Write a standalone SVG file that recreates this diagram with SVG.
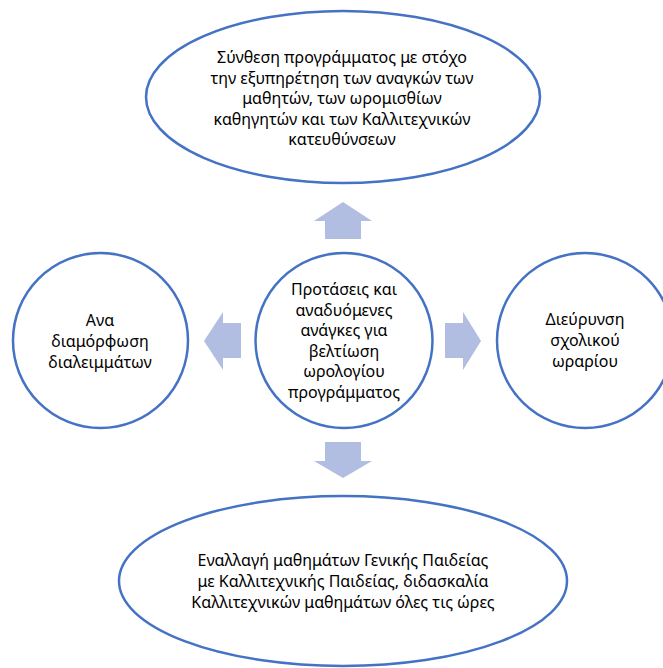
<svg xmlns="http://www.w3.org/2000/svg" width="663" height="668" viewBox="0 0 663 668">
  <style>
    .node { fill: #FFFFFF; stroke: #4472C4; stroke-width: 2.5; }
    .arrow { fill: #B1BEE1; stroke: none; }
    .label { font-family: "Noto Sans", "DejaVu Sans", sans-serif; font-size: 16px; fill: #000000; text-anchor: middle; }
  </style>
  <rect width="663" height="668" fill="#FFFFFF"/>

  <!-- block arrows pointing out of the central node -->
  <g id="connectors">
    <path class="arrow" d="M343,202 L372,221 L361,221 L361,239 L325,239 L325,221 L314,221 Z"/>
    <path class="arrow" d="M325,442 L361,442 L361,461 L372,461 L343,478 L314,461 L325,461 Z"/>
    <path class="arrow" d="M204,341 L223,312 L223,323 L241,323 L241,358 L223,358 L223,370 Z"/>
    <path class="arrow" d="M445,323 L463,323 L463,312 L481,341 L463,370 L463,358 L445,358 Z"/>
  </g>

  <g id="node-top">
    <ellipse class="node" cx="343" cy="97" rx="197" ry="86"/>
    <text class="label" x="342" y="63">Σύνθεση προγράμματος με στόχο</text>
    <text class="label" x="342" y="83.5">την εξυπηρέτηση των αναγκών των</text>
    <text class="label" x="342" y="104">μαθητών, των ωρομισθίων</text>
    <text class="label" x="342" y="124.5">καθηγητών και των Καλλιτεχνικών</text>
    <text class="label" x="342" y="145">κατευθύνσεων</text>
  </g>

  <g id="node-center">
    <ellipse class="node" cx="344" cy="340.5" rx="88.5" ry="87.5"/>
    <text class="label" x="344" y="295">Προτάσεις και</text>
    <text class="label" x="344" y="315.5">αναδυόμενες</text>
    <text class="label" x="344" y="336">ανάγκες για</text>
    <text class="label" x="344" y="356.5">βελτίωση</text>
    <text class="label" x="344" y="377">ωρολογίου</text>
    <text class="label" x="344" y="397.5">προγράμματος</text>
  </g>

  <g id="node-left">
    <ellipse class="node" cx="100.5" cy="340.5" rx="87.5" ry="87.5"/>
    <text class="label" x="100" y="326">Ανα</text>
    <text class="label" x="100" y="347">διαμόρφωση</text>
    <text class="label" x="100" y="368">διαλειμμάτων</text>
  </g>

  <g id="node-right">
    <ellipse class="node" cx="585" cy="340.5" rx="88" ry="87.5"/>
    <text class="label" x="585" y="325">Διεύρυνση</text>
    <text class="label" x="585" y="346">σχολικού</text>
    <text class="label" x="585" y="367">ωραρίου</text>
  </g>

  <g id="node-bottom">
    <ellipse class="node" cx="343" cy="581" rx="224" ry="85"/>
    <text class="label" x="343" y="566">Εναλλαγή μαθημάτων Γενικής Παιδείας</text>
    <text class="label" x="343" y="587">με Καλλιτεχνικής Παιδείας, διδασκαλία</text>
    <text class="label" x="343" y="608">Καλλιτεχνικών μαθημάτων όλες τις ώρες</text>
  </g>
</svg>
